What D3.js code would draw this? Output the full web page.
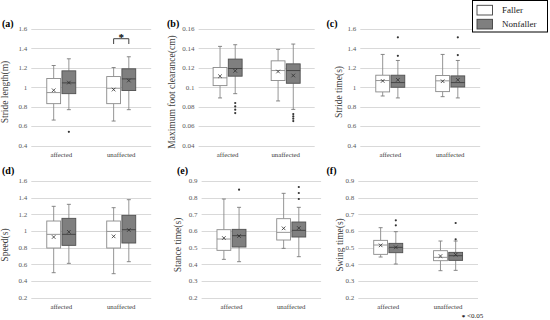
<!DOCTYPE html>
<html><head><meta charset="utf-8">
<script src="https://cdn.jsdelivr.net/npm/d3@7"></script>
<style>
html,body{margin:0;padding:0;background:#fff;}
svg{display:block;font-family:"Liberation Serif","Times New Roman",serif;}
</style></head>
<body>
<svg id="c" width="550" height="320"></svg>
<script>
const categories = ["affected", "unaffected"];
const groups = ["Faller", "Nonfaller"];

// each entry: [min, q1, median, q3, max, mean]
const strideLengthFaller    = [[0.662,0.831,0.945,1.090,1.224,0.969],[0.652,0.831,0.990,1.110,1.203,0.976]];
const strideLengthNonfaller = [[0.769,0.934,1.045,1.169,1.293,1.048],[0.769,0.966,1.086,1.190,1.314,1.069]];
const strideLengthOutFaller = [[],[]];
const strideLengthOutNonfaller = [[0.541],[]];

const clearanceFaller    = [[0.0890,0.1017,0.1097,0.1203,0.1421,0.1114],[0.0859,0.1069,0.1172,0.1272,0.1390,0.1162]];
const clearanceNonfaller = [[0.0934,0.1114,0.1193,0.1290,0.1438,0.1169],[0.0772,0.1041,0.1172,0.1241,0.1445,0.1121]];
const clearanceOutFaller = [[],[]];
const clearanceOutNonfaller = [[0.0838,0.0803,0.0769,0.0734],[0.0724,0.0700,0.0676,0.0652]];

const strideTimeFaller    = [[0.910,0.952,1.069,1.124,1.338,1.065],[0.903,0.955,1.066,1.121,1.338,1.062]];
const strideTimeNonfaller = [[0.890,1.000,1.048,1.124,1.276,1.076],[0.890,1.003,1.048,1.117,1.276,1.076]];
const strideTimeOutFaller = [[],[]];
const strideTimeOutNonfaller = [[1.324,1.514],[1.331,1.514]];

const speedFaller    = [[0.500,0.796,0.960,1.120,1.296,0.928],[0.488,0.796,0.995,1.120,1.280,0.936]];
const speedNonfaller = [[0.612,0.828,0.960,1.152,1.320,0.990],[0.632,0.856,1.016,1.188,1.376,1.012]];
const speedOutFaller = [[],[]];
const speedOutNonfaller = [[],[]];

const stanceFaller    = [[0.430,0.484,0.552,0.608,0.792,0.558],[0.496,0.546,0.592,0.674,0.826,0.616]];
const stanceNonfaller = [[0.416,0.504,0.572,0.610,0.742,0.570],[0.446,0.564,0.604,0.654,0.742,0.618]];
const stanceOutFaller = [[],[]];
const stanceOutNonfaller = [[0.848],[0.864,0.828,0.792]];

const swingFaller    = [[0.444,0.460,0.516,0.544,0.620,0.514],[0.362,0.422,0.442,0.482,0.540,0.450]];
const swingNonfaller = [[0.402,0.470,0.502,0.526,0.596,0.502],[0.364,0.424,0.452,0.472,0.540,0.458]];
const swingOutFaller = [[],[]];
const swingOutNonfaller = [[0.664,0.634],[0.648,0.550]];

const ticks1 = [0.4,0.6,0.8,1.0,1.2,1.4,1.6];
const ticksClear = [0.04,0.06,0.08,0.10,0.12,0.14,0.16];
const ticksSpeed = [0.2,0.4,0.6,0.8,1.0,1.2,1.4,1.6];
const ticksTime = [0.2,0.3,0.4,0.5,0.6,0.7,0.8,0.9];

const panelLabels = ["(a)","(b)","(c)","(d)","(e)","(f)"];
const yTitles = ["Stride length(m)","Maximum foot clearance(cm)","Stride time(s)","Speed(s)","Stance time(s)","Swing time(s)"];
const significance = [{panel:0, category:"unaffected", level:1.5, mark:"*"}];
const sigNote = "<0.05";

const svg = d3.select("#c");
const fmt = v => String(+v.toFixed(3));

const panels = [
  {f:strideLengthFaller,n:strideLengthNonfaller,of:strideLengthOutFaller,on:strideLengthOutNonfaller,ticks:ticks1,x0:31.3,x1:151.2,top:29,bot:145.5,lx:2,ly:26.5,tx:8.3,ty:92},
  {f:clearanceFaller,n:clearanceNonfaller,of:clearanceOutFaller,on:clearanceOutNonfaller,ticks:ticksClear,x0:198.6,x1:314.7,top:29,bot:145.5,lx:167,ly:26.5,tx:175,ty:92},
  {f:strideTimeFaller,n:strideTimeNonfaller,of:strideTimeOutFaller,on:strideTimeOutNonfaller,ticks:ticks1,x0:360.3,x1:480.2,top:29,bot:145.5,lx:326.5,ly:26.5,tx:341.5,ty:92},
  {f:speedFaller,n:speedNonfaller,of:speedOutFaller,on:speedOutNonfaller,ticks:ticksSpeed,x0:31.3,x1:151.2,top:181,bot:297.7,lx:2,ly:173.5,tx:8.3,ty:245},
  {f:stanceFaller,n:stanceNonfaller,of:stanceOutFaller,on:stanceOutNonfaller,ticks:ticksTime,x0:201.6,x1:321.1,top:181,bot:297.7,lx:177,ly:173.5,tx:181,ty:245},
  {f:swingFaller,n:swingNonfaller,of:swingOutFaller,on:swingOutNonfaller,ticks:ticksTime,x0:358.3,x1:478,top:181,bot:297.7,lx:326.5,ly:173.5,tx:343,ty:245}
];

const style = {
  Faller:{fill:"#ffffff",stroke:"#8a8a8a",med:"#8a8a8a"},
  Nonfaller:{fill:"#7f7f7f",stroke:"#505050",med:"#404040"}
};

panels.forEach((p,i)=>{
  const g = svg.append("g");
  const y = d3.scaleLinear().domain(d3.extent(p.ticks)).range([p.bot,p.top]);
  const x = d3.scaleBand().domain(categories).range([p.x0,p.x1]);
  const xi = d3.scaleBand().domain(groups).range([x.bandwidth()/2-14.5, x.bandwidth()/2+14.5]).paddingInner(0.09);

  g.selectAll("line.grid").data(p.ticks).join("line")
    .attr("x1",p.x0).attr("x2",p.x1)
    .attr("y1",d=>Math.round(y(d))+0.5).attr("y2",d=>Math.round(y(d))+0.5)
    .attr("stroke","#d9d9d9").attr("stroke-width",1);
  g.selectAll("text.tick").data(p.ticks).join("text")
    .attr("x",p.x0-4).attr("y",d=>y(d)+2.4)
    .attr("text-anchor","end").attr("font-size",7).attr("fill","#595959")
    .text(fmt);
  g.selectAll("text.cat").data(categories).join("text")
    .attr("x",d=>x(d)+x.bandwidth()/2).attr("y",p.bot+11.2)
    .attr("text-anchor","middle").attr("font-size",6.8).attr("fill","#404040")
    .text(d=>d);
  g.append("text").attr("x",p.lx).attr("y",p.ly).attr("font-size",10).attr("font-weight","bold").text(panelLabels[i]);
  g.append("text").attr("transform",`translate(${p.tx},${p.ty}) rotate(-90)`)
    .attr("text-anchor","middle").attr("font-size",9.5).attr("fill","#404040").text(yTitles[i]);

  groups.forEach(grp=>{
    const stats = grp==="Faller"?p.f:p.n;
    const outs = grp==="Faller"?p.of:p.on;
    const st = style[grp];
    categories.forEach((cat,ci)=>{
      const [mn,q1,md,q3,mx,mean] = stats[ci];
      const bx = x(cat)+xi(grp), bw = xi.bandwidth(), cx = bx+bw/2;
      const bg = g.append("g");
      bg.append("line").attr("x1",cx).attr("x2",cx).attr("y1",y(mx)).attr("y2",y(q3)).attr("stroke","#8a8a8a").attr("stroke-width",0.9);
      bg.append("line").attr("x1",cx).attr("x2",cx).attr("y1",y(q1)).attr("y2",y(mn)).attr("stroke","#8a8a8a").attr("stroke-width",0.9);
      [mx,mn].forEach(v=>bg.append("line").attr("x1",cx-2).attr("x2",cx+2).attr("y1",y(v)).attr("y2",y(v)).attr("stroke","#7a7a7a").attr("stroke-width",0.9));
      bg.append("rect").attr("x",bx).attr("y",y(q3)).attr("width",bw).attr("height",y(q1)-y(q3))
        .attr("fill",st.fill).attr("stroke",st.stroke).attr("stroke-width",0.9);
      bg.append("line").attr("x1",bx).attr("x2",bx+bw).attr("y1",y(md)).attr("y2",y(md)).attr("stroke",st.med).attr("stroke-width",0.9);
      const my = y(mean), s=1.8;
      bg.append("path").attr("d",`M${cx-s},${my-s}L${cx+s},${my+s}M${cx-s},${my+s}L${cx+s},${my-s}`)
        .attr("stroke","#303030").attr("stroke-width",0.8).attr("fill","none");
      bg.selectAll("circle").data(outs[ci]).join("circle")
        .attr("cx",cx).attr("cy",d=>y(d)).attr("r",1.1).attr("fill","#333");
    });
  });

  significance.filter(s=>s.panel===i).forEach(s=>{
    const cxF = x(s.category)+xi("Faller")+xi.bandwidth()/2;
    const cxN = x(s.category)+xi("Nonfaller")+xi.bandwidth()/2;
    const yy = y(s.level);
    g.append("path").attr("d",`M${cxF},${yy+5.3}V${yy}H${cxN}V${yy+5.3}`)
      .attr("fill","none").attr("stroke","#404040").attr("stroke-width",1);
    g.append("text").attr("x",(cxF+cxN)/2).attr("y",yy+1.8).attr("text-anchor","middle")
      .attr("font-size",11).attr("font-weight","bold").text(s.mark);
  });
});

// legend
const lg = svg.append("g");
lg.append("rect").attr("x",472.5).attr("y",0.5).attr("width",75).attr("height",31.5).attr("fill","#fff").attr("stroke","#000").attr("stroke-width",1);
groups.forEach((grp,i)=>{
  const yy = 5.3+i*14;
  lg.append("rect").attr("x",477).attr("y",yy).attr("width",15.5).attr("height",9.7)
    .attr("fill",style[grp].fill).attr("stroke","#404040").attr("stroke-width",0.9);
  lg.append("text").attr("x",502).attr("y",yy+8).attr("font-size",9).attr("fill","#222").text(grp);
});

// significance note
svg.append("text").attr("x",461.8).attr("y",318.6).attr("font-size",7).attr("font-weight","bold").text("*");
svg.append("text").attr("x",467).attr("y",317.6).attr("font-size",7).attr("fill","#222").text(sigNote);
</script>
</body></html>
